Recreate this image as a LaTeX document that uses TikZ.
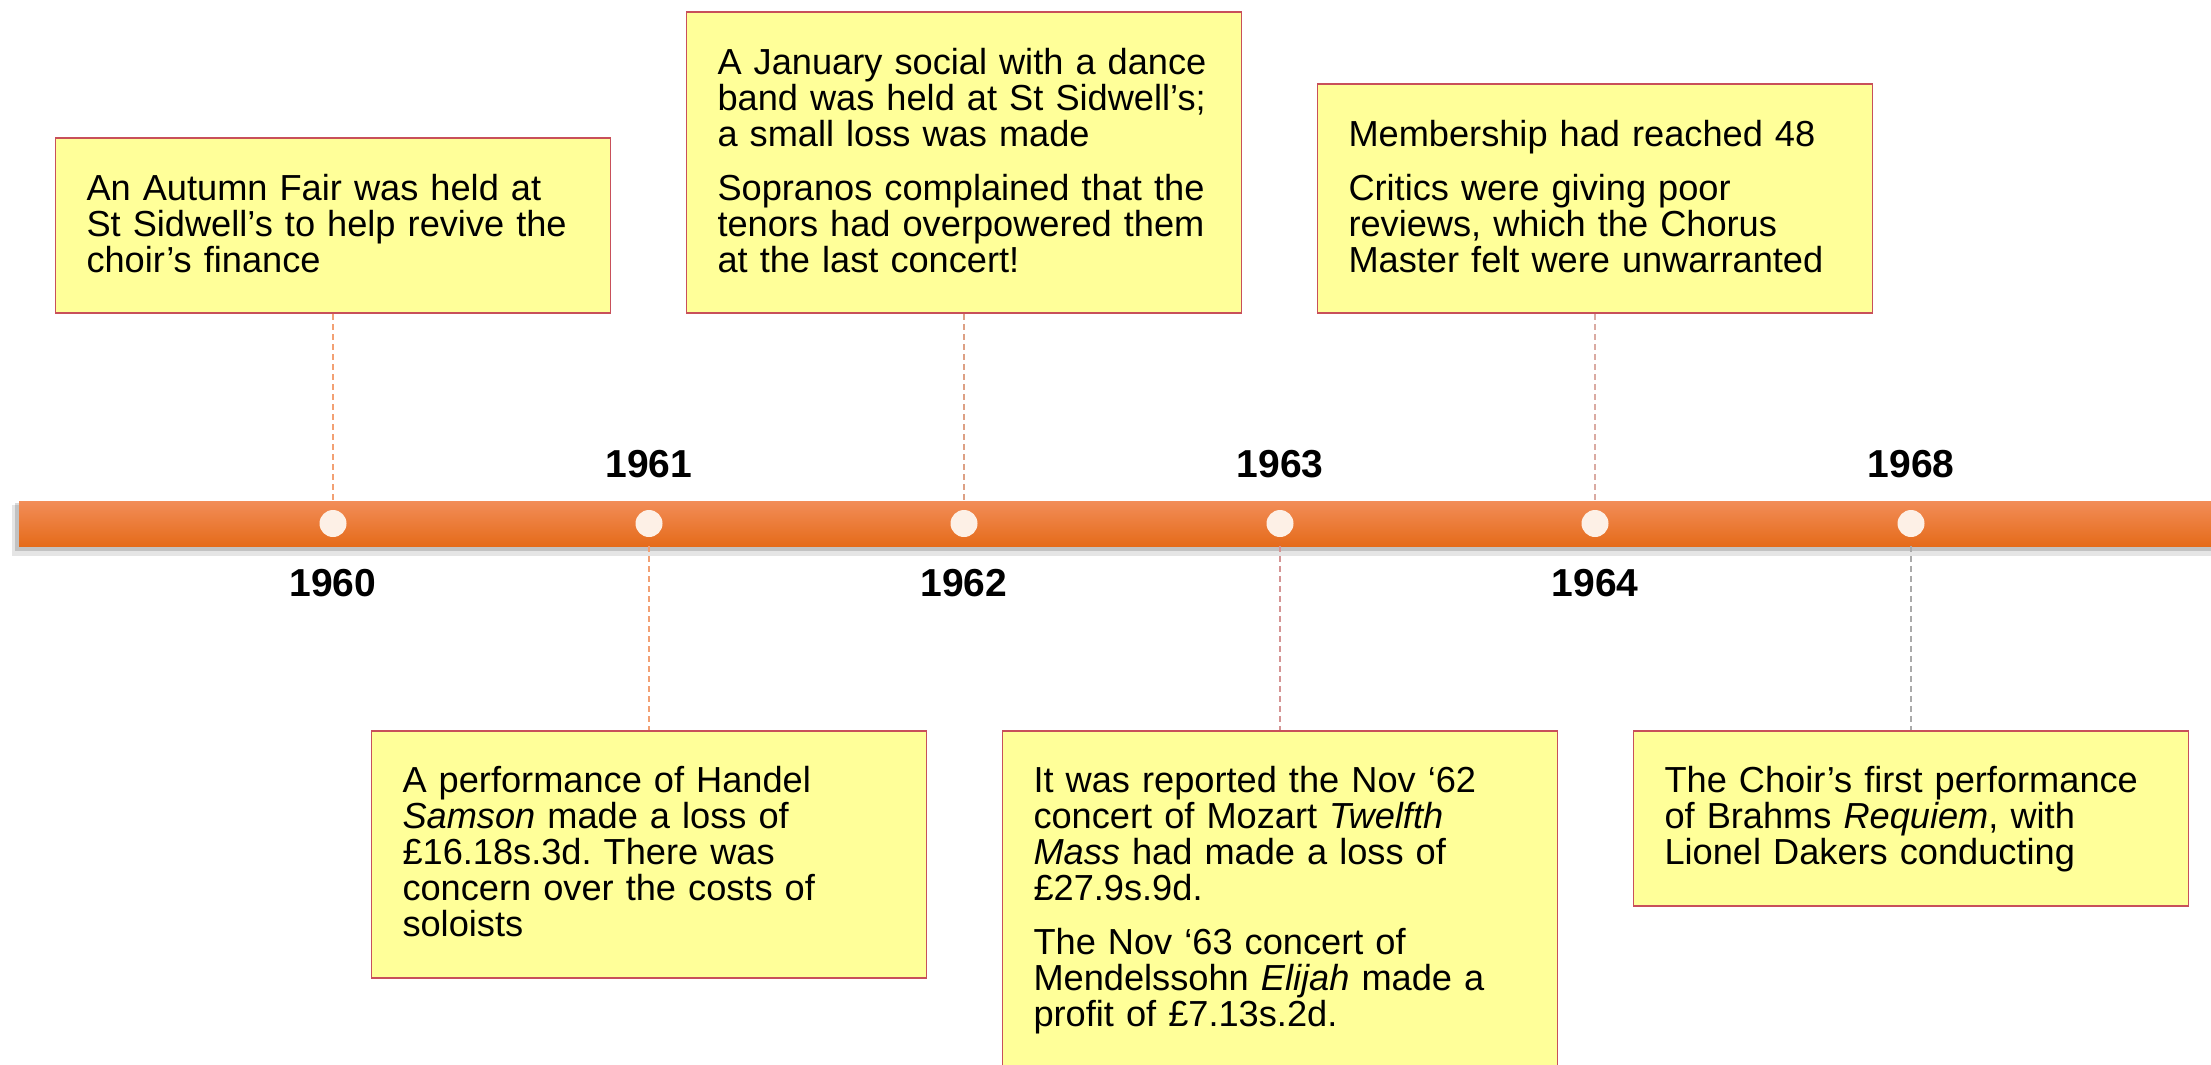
\documentclass[tikz,border=0pt]{standalone}
\usepackage{fontspec}
\setmainfont{Liberation Sans}
\frenchspacing
\definecolor{notefill}{HTML}{FFFF99}
\definecolor{noteline}{HTML}{C8505A}
\definecolor{bartop}{HTML}{F28D58}
\definecolor{barmid}{HTML}{F47B2A}
\definecolor{barbot}{HTML}{E56B1A}
\definecolor{dotfill}{HTML}{FDF0E6}
\definecolor{linkA}{HTML}{F2A074}
\definecolor{linkB}{HTML}{DDA084}
\definecolor{linkC}{HTML}{D49494}
\definecolor{linkD}{HTML}{DAAAA2}
\definecolor{linkE}{HTML}{AAAAAA}
\newcommand{\topstrut}{\rule{0pt}{14.5pt}}
\newcommand{\botstrut}{\rule[-4pt]{0pt}{4pt}}
\begin{document}
\begin{tikzpicture}[x=0.5pt, y=-0.5pt]
    \tikzstyle{note}=[draw=noteline, fill=notefill, line width=0.8pt, text width=246.5pt,
                      inner xsep=15.5pt, inner ysep=16.5pt, align=left,
                      font=\fontsize{18.1pt}{18pt}\selectfont,
                      execute at begin node={\hyphenpenalty=10000\topstrut},
                      execute at end node=\botstrut]
    \tikzstyle{dot}=[circle, fill=dotfill, minimum size=13.5pt, inner sep=0pt]
    \tikzstyle{year}=[font=\fontsize{19.5pt}{19.5pt}\selectfont\bfseries, inner sep=0pt]
    \tikzstyle{link}=[dash pattern=on 3pt off 2pt, line width=0.9pt]
    \tikzstyle{bar}=[rectangle, minimum width=1096pt, minimum height=22.5pt, inner sep=0pt,
                     top color=bartop, middle color=barmid, bottom color=barbot]

    \useasboundingbox (0,0) rectangle (2211,1065);
    \fill[white] (0,0) rectangle (2211,1065);

    % timeline bar with its soft shadow
    \fill[black, opacity=0.10] (12,505) rectangle (2211,556);
    \fill[black, opacity=0.15] (15,503) rectangle (2211,551);
    \node[bar] (bar) at (1115,523.5) {};

    \node[dot] (d60) at (333,523.5)  {};
    \node[dot] (d61) at (649,523.5)  {};
    \node[dot] (d62) at (964,523.5)  {};
    \node[dot] (d63) at (1280,523.5) {};
    \node[dot] (d64) at (1595,523.5) {};
    \node[dot] (d68) at (1911,523.5) {};

    % years
    \node[year] (y60) at (333,583)  {1960};
    \node[year] (y61) at (649,464)  {1961};
    \node[year] (y62) at (964,583)  {1962};
    \node[year] (y63) at (1280,464) {1963};
    \node[year] (y64) at (1595,583) {1964};
    \node[year] (y68) at (1911,464) {1968};

    % notes above the bar
    \node[note, anchor=south] (e60) at (333,314)
        {An Autumn Fair was held at\\ St Sidwell’s to help revive the\\ choir’s finance};
    \node[note, anchor=south] (e62) at (964,314)
        {A January social with a dance\\ band was held at St Sidwell’s;\\ a small loss was made\\[9pt]
         Sopranos complained that the\\ tenors had overpowered them\\ at the last concert!};
    \node[note, anchor=south] (e64) at (1595,314)
        {Membership had reached 48\\[9pt] Critics were giving poor\\ reviews, which the Chorus\\ Master felt were unwarranted};

    % notes below the bar
    \node[note, anchor=north] (e61) at (649,730)
        {A performance of Handel\\ \textit{Samson} made a loss of\\ £16.18s.3d. There was\\ concern over the costs of\\ soloists};
    \node[note, anchor=north] (e63) at (1280,730)
        {It was reported the Nov ‘62\\ concert of Mozart \textit{Twelfth}\\ \textit{Mass} had made a loss of\\ £27.9s.9d.\\[9pt]
         The Nov ‘63 concert of\\ Mendelssohn \textit{Elijah} made a\\ profit of £7.13s.2d.};
    \node[note, anchor=north] (e68) at (1911,730)
        {The Choir’s first performance\\ of Brahms \textit{Requiem}, with\\ Lionel Dakers conducting};

    % connectors
    \draw[link, draw=linkA] (e60.south) -- (e60.south |- bar.north);
    \draw[link, draw=linkB] (e62.south) -- (e62.south |- bar.north);
    \draw[link, draw=linkD] (e64.south) -- (e64.south |- bar.north);
    \draw[link, draw=linkA] (e61.north |- bar.south) -- (e61.north);
    \draw[link, draw=linkC] (e63.north |- bar.south) -- (e63.north);
    \draw[link, draw=linkE] (e68.north |- bar.south) -- (e68.north);

\end{tikzpicture}
\end{document}
